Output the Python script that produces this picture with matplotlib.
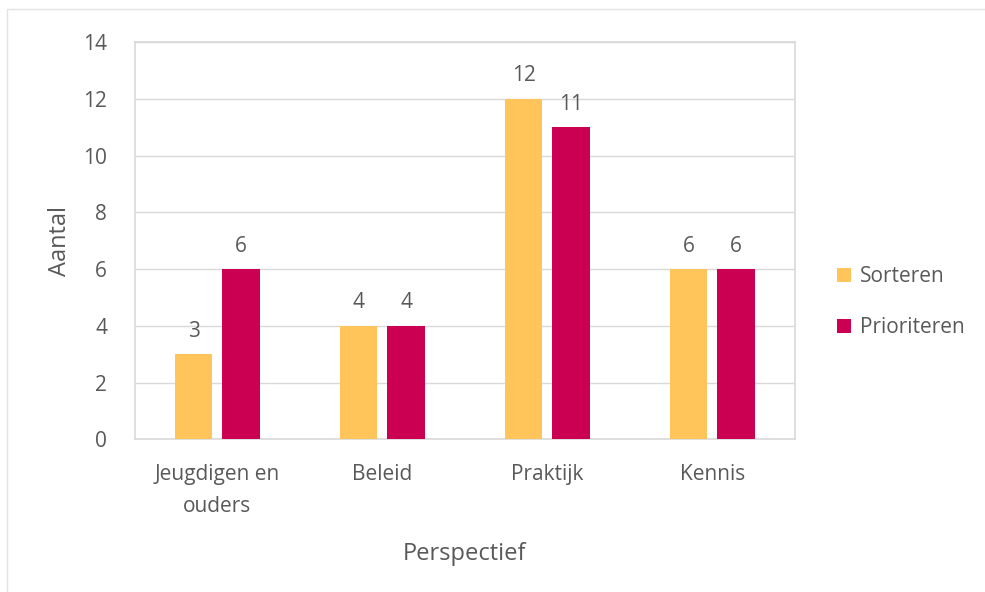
import numpy as np
import matplotlib.pyplot as plt
from matplotlib.patches import Rectangle

# data
categories = ["Jeugdigen en\nouders", "Beleid", "Praktijk", "Kennis"]
sorteren = [3, 4, 12, 6]
prioriteren = [6, 4, 11, 6]
series_names = ["Sorteren", "Prioriteren"]
colors = ["#FFC55A", "#CC0052"]
text_color = "#595959"
grid_color = "#D9D9D9"

plt.rcParams['font.family'] = ['Open Sans', 'DejaVu Sans']

fig = plt.figure(figsize=(9.85, 5.92), dpi=100)
ax = fig.add_axes([0.137, 0.258, 0.670, 0.671])

# outer frame of the chart
fig.patches.append(Rectangle((0.007, -0.01), 1.2, 0.995, transform=fig.transFigure,
                             fill=False, edgecolor="#E3E3E3", linewidth=1))

x = np.arange(len(categories))
w = 0.225
off = 0.143
b1 = ax.bar(x - off, sorteren, w, color=colors[0], label=series_names[0], zorder=3)
b2 = ax.bar(x + off, prioriteren, w, color=colors[1], label=series_names[1], zorder=3)

for bars in (b1, b2):
    ax.bar_label(bars, padding=9, fontsize=15, color=text_color)

ax.set_xlim(-0.5, 3.5)
ax.set_ylim(0, 14)
ax.set_yticks(range(0, 15, 2))
ax.set_xticks(x)
ax.set_xticklabels(categories, fontsize=15, color=text_color, linespacing=1.7)
ax.tick_params(axis='y', labelsize=15, labelcolor=text_color, length=0, pad=20)
ax.tick_params(axis='x', length=0, pad=18)
ax.yaxis.grid(True, color=grid_color, linewidth=1, zorder=0)

for s in ax.spines.values():
    s.set_color(grid_color)
    s.set_linewidth(1.2)

ax.set_ylabel("Aantal", fontsize=17, color=text_color, labelpad=8)
ax.set_xlabel("Perspectief", fontsize=17, color=text_color, labelpad=18)

leg = ax.legend(loc='center left', bbox_to_anchor=(1.035, 0.345), frameon=False,
                fontsize=15, labelcolor=text_color, handlelength=0.7,
                handleheight=0.7, handletextpad=0.4, labelspacing=1.45)

fig.savefig("out.png", dpi=100)
